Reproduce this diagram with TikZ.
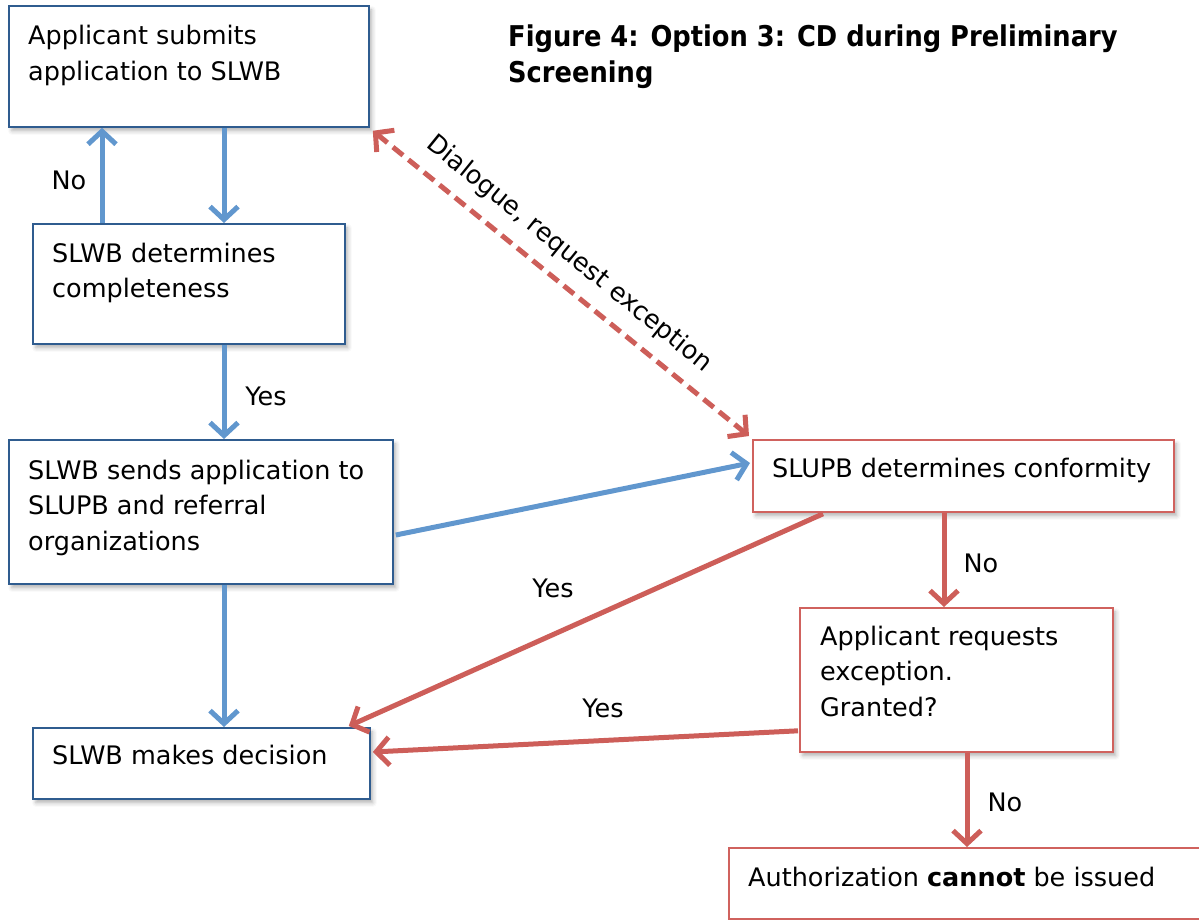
\documentclass[tikz,border=0pt]{standalone}
\usepackage{fontspec}
\setmainfont{DejaVu Sans}
\newfontfamily\titlefont{DejaVu Sans Condensed}
\usetikzlibrary{arrows.meta,shadows.blur,calc}
\definecolor{boxblue}{HTML}{2F5C8F}
\definecolor{boxred}{HTML}{D0625E}
\definecolor{arrblue}{HTML}{6197CE}
\definecolor{arrred}{HTML}{CD5E59}
\begin{document}
\begin{tikzpicture}[x=1pt,y=-1pt,
  box/.style={draw=#1, line width=1.8pt, fill=white, anchor=north west, inner sep=0pt,
    blur shadow={shadow xshift=3pt, shadow yshift=-4pt, shadow blur radius=4pt, shadow opacity=30}},
  txt/.style={anchor=base west, inner sep=0pt, align=left, font=\fontsize{25.5}{35.5}\selectfont},
  lbl/.style={inner sep=0pt, font=\fontsize{25.5}{30}\selectfont},
  conn/.style={line width=5pt, -{Straight Barb[length=13pt,width=28pt]}},
  bconn/.style={conn, draw=arrblue},
  rconn/.style={conn, draw=arrred},
]
\useasboundingbox (0,0) rectangle (1199,920);

% boxes
\node[box=boxblue, minimum width=360pt, minimum height=121pt] (b1) at (8,5) {};
\node[box=boxblue, minimum width=312pt, minimum height=120pt] (b2) at (32,223) {};
\node[box=boxblue, minimum width=384pt, minimum height=144pt] (b3) at (8,439) {};
\node[box=boxblue, minimum width=337pt, minimum height=71pt] (b4) at (32,727) {};
\node[box=boxred, minimum width=421pt, minimum height=72pt] (b5) at (752,439) {};
\node[box=boxred, minimum width=313pt, minimum height=144pt] (b6) at (799,607) {};
\node[box=boxred, minimum width=472pt, minimum height=71pt] (b7) at (728,847) {};

% box texts (base anchor = last line's baseline)
\node[txt] (t1) at ($(b1.north west)+(20,75.5)$) {Applicant submits\\application to SLWB};
\node[txt] (t2) at ($(b2.north west)+(20,74.5)$) {SLWB determines\\completeness};
\node[txt] (t3) at ($(b3.north west)+(20,111)$) {SLWB sends application to\\SLUPB and referral\\organizations};
\node[txt] (t4) at ($(b4.north west)+(20,37)$) {SLWB makes decision};
\node[txt] (t5) at ($(b5.north west)+(20,38)$) {SLUPB determines conformity};
\node[txt] (t6) at ($(b6.north west)+(21,109)$) {Applicant requests\\exception.\\Granted?};
\node[txt] (t7) at ($(b7.north west)+(20,39)$) {Authorization \textbf{cannot} be issued};

% title
\node[anchor=base west, inner sep=0pt, align=left, font=\titlefont\bfseries\fontsize{28.6}{36}\selectfont] (title) at (508,83)
  {Figure 4: Option 3: CD during Preliminary\\Screening};

% connectors
\draw[bconn] (b1.south -| 224,0) -- (b2.north -| 224,0);
\draw[bconn] (b2.north -| 102,0) -- (b1.south -| 102,0);
\draw[bconn] (b2.south -| 224,0) -- (b3.north -| 224,0);
\draw[bconn] (b3.south -| 224,0) -- (b4.north -| 224,0);
\draw[bconn] ($(b3.north east)+(2,96)$) -- ($(b5.north west)+(-2,24)$);
\draw[rconn] ($(b5.south west)+(71,1)$) -- ($(b4.north east)+(-22,-1)$);
\draw[rconn] ($(b6.south west)+(-1,-22)$) -- ($(b4.north east)+(2,25)$);
\draw[rconn] (b5.south -| 944,0) -- (b6.north -| 944,0);
\draw[rconn] (b6.south -| 967,0) -- (b7.north -| 967,0);
\draw[line width=5pt, draw=arrred, dash pattern=on 13pt off 7pt,
  {Straight Barb[length=13pt,width=28pt]}-{Straight Barb[length=13pt,width=28pt]}]
  ($(b1.south east)+(3,3)$) -- node[pos=0.475, sloped, above=13pt, lbl] (dl) {Dialogue, request exception} ($(b5.north west)+(-3,-3)$);

% labels
\node[lbl] (no1) at (69,180) {No};
\node[lbl] (yes1) at (266,396) {Yes};
\node[lbl] (yes2) at (553,588) {Yes};
\node[lbl] (yes3) at (603,708) {Yes};
\node[lbl] (no2) at (981,563) {No};
\node[lbl] (no3) at (1005,802) {No};
\end{tikzpicture}
\end{document}
